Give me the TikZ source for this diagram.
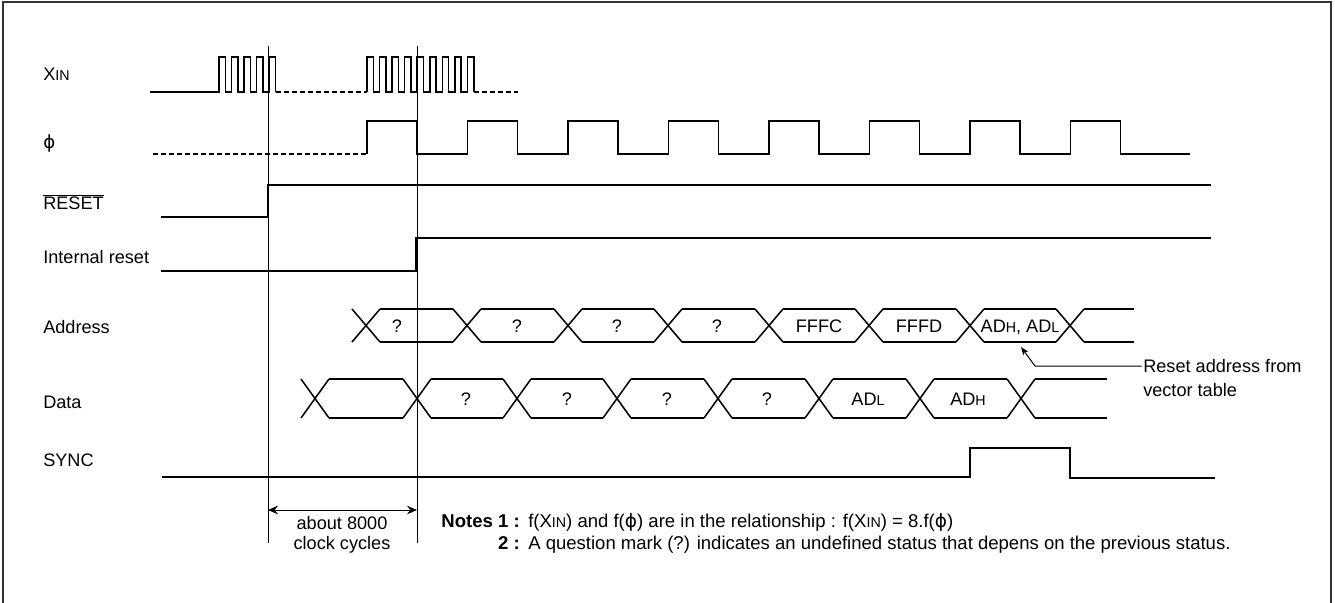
\documentclass[tikz,border=0pt]{standalone}
\usepackage{fontspec}
\setmainfont{Liberation Sans}
\newfontfamily\phifont{DejaVu Sans}
\usetikzlibrary{arrows.meta}
\newcommand{\lowtxt}[1]{{\fontsize{10.7}{12}\selectfont #1}}
\newcommand{\phisym}{{\phifont ϕ}}

\begin{document}
\begin{tikzpicture}[x=0.75pt,y=-0.75pt,font=\fontsize{13.6}{16}\selectfont]
	\tikzstyle{signame} = [anchor=west, inner sep=0pt, text height=9.7pt, text depth=0pt]
	\tikzstyle{busval} = [inner sep=0pt, text height=9.7pt, text depth=0pt]
	\tikzstyle{notetxt} = [signame, font=\fontsize{13.9}{16}\selectfont]
	\tikzstyle{wave} = [line width=1.15pt]
	\tikzstyle{idle} = [line width=1.15pt, dash pattern=on 3.5pt off 2.5pt]
	\tikzstyle{guide} = [line width=0.75pt]
	\tikzset{dim/.style = {guide, {Stealth[length=7.5pt,width=6.5pt,inset=2.5pt]}-{Stealth[length=7.5pt,width=6.5pt,inset=2.5pt]}}}
	\tikzset{pointer/.style = {guide, -{Stealth[length=6pt,width=4.5pt,inset=1.5pt]}}}

	\useasboundingbox (0,0) rectangle (1335,603);
	\draw[line width=2pt, black!80] (3,603) -- (3,2) -- (1331,2) -- (1331,603);

	% signal names
	\node[signame](xin) at (43,74) {X\lowtxt{IN}};
	\node[signame](phi) at (43,142) {\phisym};
	\node[signame](rst) at (43,203) {$\overline{\mbox{RESET}}$};
	\node[signame](irst) at (43,257) {Internal reset};
	\node[signame](addr) at (43,327) {Address};
	\node[signame](data) at (43,402) {Data};
	\node[signame](sync) at (43,460) {SYNC};

	% XIN
	\draw[wave] (150,92) -- (219,92) foreach \k in {0,...,4} { -- ({219+12.56*\k},92) -- ++(0,-35) -- ++(6.3,0) -- ++(0,35) };
	\draw[idle] (276,92) -- (367,92);
	\draw[wave] (367,92) foreach \k in {0,...,8} { -- ({367+12.56*\k},92) -- ++(0,-35) -- ++(6.3,0) -- ++(0,35) };
	\draw[idle] (474,92) -- (518,92);

	% phi
	\draw[idle] (153,154) -- (367,154);
	\draw[wave] (367,154) foreach \k in {0,...,7} { -- ({367+100.5*\k},154) -- ++(0,-33) -- ++(50.2,0) -- ++(0,33) } -- (1190,154);

	% RESET and internal reset
	\draw[wave] (161,217) -- (268,217) -- (268,185) -- (1211,185);
	\draw[wave] (161,271) -- (416,271) -- (416,238) -- (1211,238);

	% Address bus
	\foreach \c in {366,467,568,668,769,869,970,1070}
		\draw[wave] (\c-14,309) -- (\c+14,342) (\c-14,342) -- (\c+14,309);
	\foreach \a/\b in {366/467,467/568,568/668,668/769,769/869,869/970,970/1070,1070/1148}
		\draw[wave] (\a+14,309) -- (\b-14,309) (\a+14,342) -- (\b-14,342);
	\node[busval](a1) at (397,326) {?};
	\node[busval](a2) at (517,326) {?};
	\node[busval](a3) at (617,326) {?};
	\node[busval](a4) at (717,326) {?};
	\node[busval](a5) at (819,326) {FFFC};
	\node[busval](a6) at (919,326) {FFFD};
	\node[busval](a7) at (1020,326) {AD\lowtxt{H}, AD\lowtxt{L}};

	% Data bus
	\foreach \c in {315,417,517,617,718,819,920,1021}
		\draw[wave] (\c-14,379) -- (\c+14,418) (\c-14,418) -- (\c+14,379);
	\foreach \a/\b in {315/417,417/517,517/617,617/718,718/819,819/920,920/1021,1021/1121}
		\draw[wave] (\a+14,379) -- (\b-14,379) (\a+14,418) -- (\b-14,418);
	\node[busval](d1) at (466,399) {?};
	\node[busval](d2) at (567,399) {?};
	\node[busval](d3) at (667,399) {?};
	\node[busval](d4) at (767,399) {?};
	\node[busval](d5) at (868,399) {AD\lowtxt{L}};
	\node[busval](d6) at (968,399) {AD\lowtxt{H}};

	% SYNC
	\draw[wave] (162,477) -- (970,477) -- (970,448) -- (1070,448) -- (1070,478) -- (1215,478);

	% reset to internal reset
	\coordinate (t0) at (268,46);
	\coordinate (t1) at (417,46);
	\draw[guide] (t0) -- (268,543);
	\draw[guide] (t1) -- (417,543);
	\draw[dim] (268,510) -- (417,510);
	\node[busval](cyc1) at (342,523) {about 8000};
	\node[busval](cyc2) at (342,543) {clock cycles};

	% vector note
	\node[signame](vec1) at (1143,366) {Reset address from};
	\node[signame](vec2) at (1143,390) {vector table};
	\coordinate (bend) at (1035,366);
	\coordinate (tip) at (1021,347);
	\draw[pointer] ([xshift=-1pt]vec1.west) -- (bend) -- (tip);

	% notes
	\node[notetxt, anchor=east](n1h) at (520,521) {\textbf{Notes 1 :}};
	\node[notetxt](n1) at (528,521) {f(X\lowtxt{IN}) and f(\phisym) are in the relationship : f(X\lowtxt{IN}) = 8.f(\phisym)};
	\node[notetxt, anchor=east](n2h) at (520,543) {\textbf{2 :}};
	\node[notetxt](n2) at (528,543) {A question mark (?) indicates an undefined status that depens on the previous status.};
\end{tikzpicture}
\end{document}
